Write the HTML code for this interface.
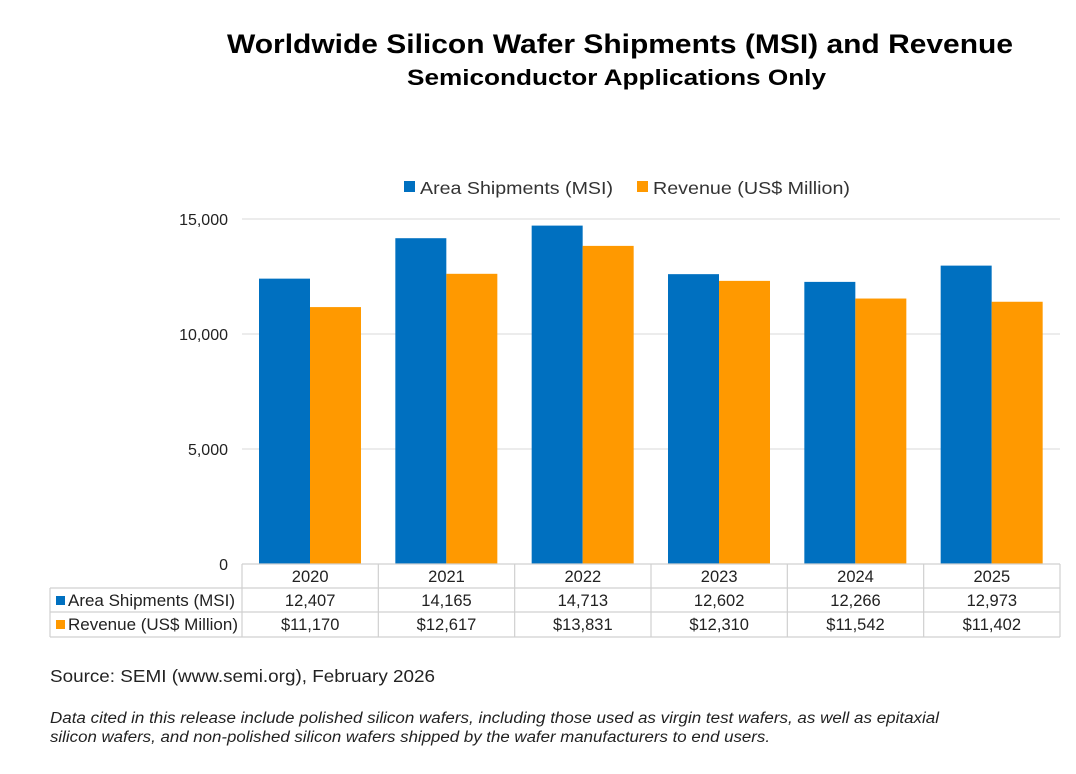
<!DOCTYPE html>
<html><head><meta charset="utf-8"><style>
body{margin:0;background:#fff;}
svg{display:block;font-family:"Liberation Sans",Arial,sans-serif;}
</style></head><body>
<svg id="c" width="1076" height="774" viewBox="0 0 1076 774">
<text x="227" y="53" font-size="27" font-weight="bold" fill="#000" textLength="786" lengthAdjust="spacingAndGlyphs">Worldwide Silicon Wafer Shipments (MSI) and Revenue</text>
<text x="407" y="85" font-size="22" font-weight="bold" fill="#000" textLength="419" lengthAdjust="spacingAndGlyphs">Semiconductor Applications Only</text>
<g>
<rect x="404" y="181" width="11" height="11" fill="#0070c0"/>
<text x="420" y="194" font-size="17.5" fill="#333" textLength="193" lengthAdjust="spacingAndGlyphs">Area Shipments (MSI)</text>
<rect x="637" y="181" width="11" height="11" fill="#ff9900"/>
<text x="653" y="194" font-size="17.5" fill="#333" textLength="197" lengthAdjust="spacingAndGlyphs">Revenue (US$ Million)</text>
</g>
<g id="grid"></g><g id="bars"></g><g id="table"></g>
<text x="50" y="682" font-size="17.5" fill="#222" textLength="385" lengthAdjust="spacingAndGlyphs">Source: SEMI (www.semi.org), February 2026</text>
<text x="50" y="723" font-size="15.5" font-style="italic" fill="#222" textLength="889" lengthAdjust="spacingAndGlyphs">Data cited in this release include polished silicon wafers, including those used as virgin test wafers, as well as epitaxial</text>
<text x="50" y="742" font-size="15.5" font-style="italic" fill="#222" textLength="720" lengthAdjust="spacingAndGlyphs">silicon wafers, and non-polished silicon wafers shipped by the wafer manufacturers to end users.</text>
</svg>
<script>
const categories=["2020","2021","2022","2023","2024","2025"];
const areaValues=[12407,14165,14713,12602,12266,12973];
const revenueValues=[11170,12617,13831,12310,11542,11402];
const yTicks=[0,5000,10000,15000];
const NS="http://www.w3.org/2000/svg";
const X0=242,X1=1060,Y0=564,Y1=219,YMAX=15000;
const cw=(X1-X0)/categories.length;
function y(v){return Y0-(v/YMAX)*(Y0-Y1);}
function xc(i){return X0+i*cw;}
function mk(tag,attrs,parent,txt){const e=document.createElementNS(NS,tag);for(const k in attrs)e.setAttribute(k,attrs[k]);if(txt!==undefined)e.textContent=txt;parent.appendChild(e);return e;}
const fmt=v=>v.toLocaleString('en-US');
const grid=document.getElementById('grid');
yTicks.forEach(t=>{
  if(t>0){const l=mk('line',{x1:X0,x2:X1,y1:y(t),y2:y(t),stroke:'#d9d9d9','stroke-width':1},grid);
  
  }
  const tx=mk('text',{x:228,y:y(t)+6,'font-size':16,'text-anchor':'end',fill:'#222'},grid,fmt(t));
  
  
});
const bars=document.getElementById('bars');
const bw=51,off=17;
categories.forEach((c,i)=>{
  const a=mk('rect',{x:xc(i)+off,y:y(areaValues[i]),width:bw,height:Y0-y(areaValues[i]),fill:'#0070c0'},bars);
  
  
  const r=mk('rect',{x:xc(i)+off+bw,y:y(revenueValues[i]),width:bw,height:Y0-y(revenueValues[i]),fill:'#ff9900'},bars);
  
  
});
const tb=document.getElementById('table');
const st={stroke:'#d0d0d0','stroke-width':1.2};
mk('line',Object.assign({x1:X0,x2:X1,y1:564,y2:564},st),tb);
[588,612,637].forEach(yy=>mk('line',Object.assign({x1:50,x2:X1,y1:yy,y2:yy},st),tb));
mk('line',Object.assign({x1:50,x2:50,y1:588,y2:637},st),tb);
for(let i=0;i<=categories.length;i++)mk('line',Object.assign({x1:xc(i),x2:xc(i),y1:564,y2:637},st),tb);
categories.forEach((c,i)=>{
  const cx=xc(i)+cw/2;
  const t1=mk('text',{x:cx,y:582,'font-size':16.5,'text-anchor':'middle',fill:'#222'},tb,c);
  
  
  const t2=mk('text',{x:cx,y:606,'font-size':16.5,'text-anchor':'middle',fill:'#222'},tb,fmt(areaValues[i]));
  
  
  const t3=mk('text',{x:cx,y:630,'font-size':16.5,'text-anchor':'middle',fill:'#222'},tb,'$'+fmt(revenueValues[i]));
  
  
});
const s1=mk('rect',{x:56,y:596,width:9,height:9,fill:'#0070c0'},tb);


const l1=mk('text',{x:68,y:606,'font-size':16.5,fill:'#222',textLength:167,lengthAdjust:'spacingAndGlyphs'},tb,'Area Shipments (MSI)');


const s2=mk('rect',{x:56,y:620,width:9,height:9,fill:'#ff9900'},tb);


const l2=mk('text',{x:68,y:630,'font-size':16.5,fill:'#222',textLength:170,lengthAdjust:'spacingAndGlyphs'},tb,'Revenue (US$ Million)');


</script>
</body></html>
